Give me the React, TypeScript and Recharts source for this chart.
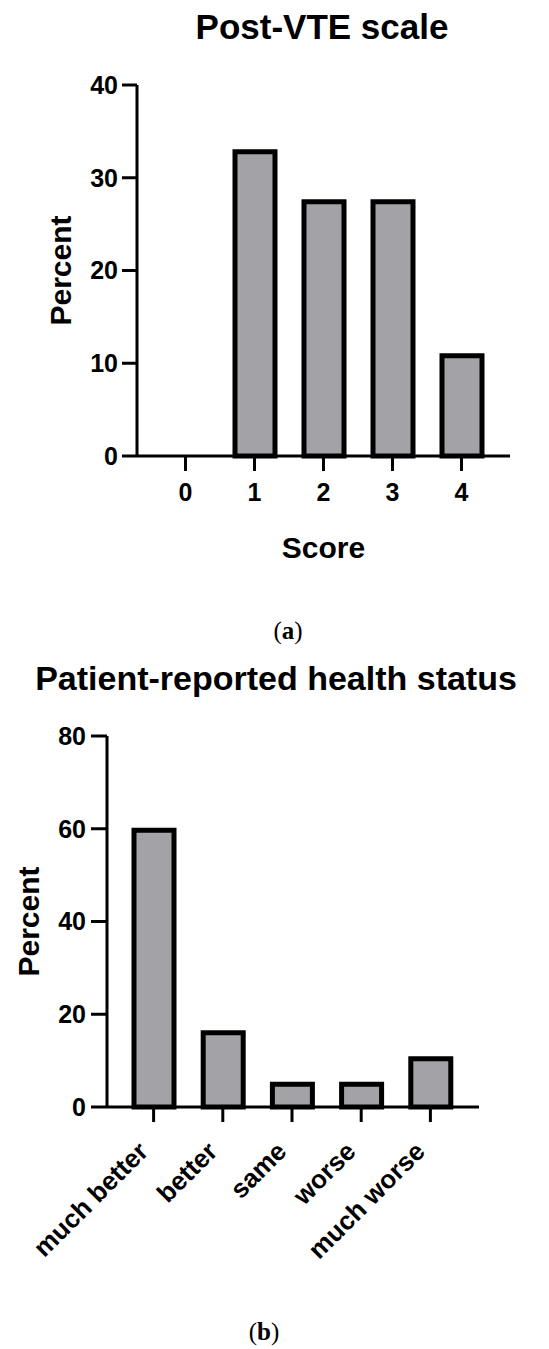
import React from 'react'
import { Bar, BarChart, XAxis, YAxis } from 'recharts'

// (a) Post-VTE scale
const vteScores = ['0', '1', '2', '3', '4']
const vtePercent = [0, 32.8, 27.4, 27.4, 10.8]
const vteTicks = [0, 10, 20, 30, 40]

// (b) Patient-reported health status
const statusLabels = ['much better', 'better', 'same', 'worse', 'much worse']
const statusPercent = [59.7, 16.0, 4.9, 4.9, 10.4]
const statusTicks = [0, 20, 40, 60, 80]

const FONT = '"Liberation Sans", Arial, Helvetica, sans-serif'
const SERIF = '"Liberation Serif", "DejaVu Serif", serif'
const BAR_FILL = '#a3a2a7'
const axisStyle = { stroke: '#000', strokeWidth: 3 }
const tickFont = { fontSize: 25, fontWeight: 700, fill: '#000', fontFamily: FONT }

const vteData = vteScores.map((s, i) => ({ score: s, pct: vtePercent[i] }))
const statusData = statusLabels.map((s, i) => ({ status: s, pct: statusPercent[i] }))

function SlantTick({ x, y, payload }: any) {
  return (
    <g transform={`translate(${x - 4},${y + 31})`}>
      <text transform="rotate(-45)" textAnchor="end" fontSize={26} fontWeight={700} fill="#000" fontFamily={FONT}>
        {payload.value}
      </text>
    </g>
  )
}

export default function App() {
  return (
    <div style={{ position: 'absolute', left: 0, top: 0, width: 549, height: 1349, background: '#fff' }}>
      <svg width={549} height={1349} style={{ position: 'absolute', left: 0, top: 0, pointerEvents: 'none' }}>
        <text x={322} y={39} textAnchor="middle" fontSize={35} fontWeight={700} fontFamily={FONT}>Post-VTE scale</text>
        <text x={288} y={639} textAnchor="middle" fontSize={25} fontFamily={SERIF}>
          (<tspan fontWeight={700}>a</tspan>)
        </text>
        <text x={276} y={690} textAnchor="middle" fontSize={34} fontWeight={700} fontFamily={FONT}>Patient-reported health status</text>
        <text x={264} y={1340} textAnchor="middle" fontSize={25} fontFamily={SERIF}>
          (<tspan fontWeight={700}>b</tspan>)
        </text>
      </svg>

      <div style={{ position: 'absolute', left: 0, top: 0 }}>
        <BarChart width={549} height={620} data={vteData} margin={{ top: 85, right: 39, bottom: 0, left: 0 }}>
          <XAxis
            dataKey="score"
            height={164}
            padding={{ left: 14, right: 14 }}
            axisLine={axisStyle}
            tickLine={axisStyle}
            tickSize={15}
            tickMargin={12}
            tick={tickFont}
            interval={0}
            label={{ value: 'Score', position: 'insideBottom', offset: 62, fontSize: 30, fontWeight: 700, fill: '#000', fontFamily: FONT }}
          />
          <YAxis
            width={137}
            domain={[0, 40]}
            ticks={vteTicks}
            axisLine={axisStyle}
            tickLine={axisStyle}
            tickSize={15}
            tickMargin={4}
            tick={tickFont}
            label={{ value: 'Percent', angle: -90, position: 'insideLeft', offset: 60, fontSize: 30, fontWeight: 700, fill: '#000', fontFamily: FONT, style: { textAnchor: 'middle' } }}
          />
          <Bar dataKey="pct" fill={BAR_FILL} stroke="#000" strokeWidth={5} barSize={40} isAnimationActive={false} />
        </BarChart>
      </div>

      <div style={{ position: 'absolute', left: 0, top: 620 }}>
        <BarChart width={549} height={729} data={statusData} margin={{ top: 116, right: 70, bottom: 0, left: 0 }}>
          <XAxis
            dataKey="status"
            height={242}
            padding={{ left: 12, right: 14 }}
            axisLine={axisStyle}
            tickLine={axisStyle}
            tickSize={15}
            tickMargin={0}
            tick={<SlantTick />}
            interval={0}
          />
          <YAxis
            width={107}
            domain={[0, 80]}
            ticks={statusTicks}
            axisLine={axisStyle}
            tickLine={axisStyle}
            tickSize={16}
            tickMargin={5}
            tick={tickFont}
            label={{ value: 'Percent', angle: -90, position: 'insideLeft', offset: 28, fontSize: 30, fontWeight: 700, fill: '#000', fontFamily: FONT, style: { textAnchor: 'middle' } }}
          />
          <Bar dataKey="pct" fill={BAR_FILL} stroke="#000" strokeWidth={5} barSize={40} isAnimationActive={false} />
        </BarChart>
      </div>
    </div>
  )
}
